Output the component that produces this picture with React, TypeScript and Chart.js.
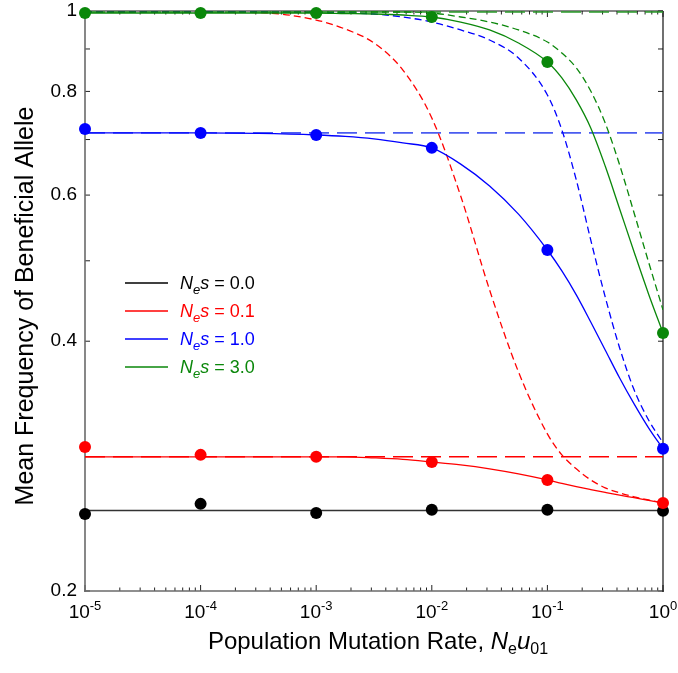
import React, { useEffect, useRef } from "react";
import { Chart, registerables } from "chart.js";

Chart.register(...registerables);

// ---------- data ----------
const dotX = [1e-5, 1e-4, 1e-3, 1e-2, 1e-1, 1];
const dotsNes00 = [0.2477, 0.2547, 0.2484, 0.2505, 0.2505, 0.2498];
const dotsNes01 = [0.2983, 0.2918, 0.2903, 0.2861, 0.2722, 0.2554];
const dotsNes10 = [0.7209, 0.7129, 0.7089, 0.684, 0.5152, 0.2967];
const dotsNes30 = [0.9945, 0.9945, 0.9945, 0.9835, 0.8681, 0.4093];

const curveX = [
  1e-5, 1e-4, 3.162e-4, 1e-3, 1.778e-3, 3.162e-3, 5.623e-3, 1e-2, 1.778e-2, 3.162e-2,
  5.623e-2, 0.1, 0.1334, 0.1778, 0.2371, 0.3162, 0.4217, 0.5623, 0.7499, 1,
];
const solidNes01 = [
  0.2902, 0.2902, 0.2902, 0.2902, 0.2902, 0.2894, 0.2882, 0.2861, 0.2838, 0.2807,
  0.2768, 0.2722, 0.2696, 0.2672, 0.265, 0.2629, 0.2609, 0.2591, 0.2572, 0.2554,
];
const dashedNes01 = [
  0.9986, 0.9972, 0.9958, 0.9753, 0.9513, 0.9151, 0.8489, 0.7432, 0.5984, 0.4611,
  0.3673, 0.3093, 0.2918, 0.2807, 0.2722, 0.2663, 0.2626, 0.2597, 0.2575, 0.2554,
];
const solidNes10 = [
  0.7129, 0.7129, 0.7119, 0.7089, 0.706, 0.7011, 0.6934, 0.6839, 0.6539, 0.6154,
  0.5691, 0.5152, 0.4861, 0.4549, 0.4219, 0.3904, 0.3612, 0.3361, 0.3145, 0.2967,
];
const dashedNes10 = [
  0.9972, 0.9972, 0.9972, 0.9958, 0.9945, 0.9917, 0.9835, 0.9699, 0.9487, 0.9227,
  0.8777, 0.7922, 0.7188, 0.6257, 0.5298, 0.4523, 0.3926, 0.3495, 0.3215, 0.3017,
];
const solidNes30 = [
  0.9945, 0.9945, 0.9945, 0.9945, 0.9931, 0.9917, 0.9889, 0.9835, 0.9699, 0.9487,
  0.9151, 0.8681, 0.8304, 0.7813, 0.7228, 0.6504, 0.5774, 0.5124, 0.4561, 0.4093,
];
const dashedNes30 = [
  0.9972, 0.9972, 0.9972, 0.9972, 0.9972, 0.9972, 0.9972, 0.9945, 0.9835, 0.9699,
  0.9487, 0.9176, 0.8899, 0.8538, 0.8008, 0.7329, 0.6522, 0.571, 0.4984, 0.4363,
];

const flatX = [1e-5, 1];
const flatNes00 = [0.25, 0.25];
const flatNes01 = [0.2902, 0.2902];
const flatNes10 = [0.7129, 0.7129];
const flatNes30 = [0.9972, 0.9972];

const legendValues = ["0.0", "0.1", "1.0", "3.0"];
const xTickValues = [1e-5, 1e-4, 1e-3, 1e-2, 1e-1, 1];
const xTickExponents = ["-5", "-4", "-3", "-2", "-1", "0"];
const yTickValues = [0.2, 0.3, 0.4, 0.5, 0.6, 0.7, 0.8, 0.9, 1];
const yTickLabels = ["0.2", "", "0.4", "", "0.6", "", "0.8", "", "1"];

// ---------- styles ----------
const FONT = '"Liberation Sans", Arial, Helvetica, sans-serif';
const C_BLACK = "#000000";
const C_RED = "#ff0000";
const C_BLUE = "#0000ff";
const C_GREEN = "#0a870a";
const legendColors = [C_BLACK, C_RED, C_BLUE, C_GREEN];

const pts = (xs: number[], ys: number[]) => xs.map((x, i) => ({ x, y: ys[i] }));

type Seg = { t: string; size: number; italic?: boolean; dy?: number };

function drawRich(ctx: CanvasRenderingContext2D, segs: Seg[], x: number, y: number, align: "left" | "center") {
  const font = (s: Seg) => `${s.italic ? "italic " : ""}${s.size}px ${FONT}`;
  let total = 0;
  segs.forEach((s) => {
    ctx.font = font(s);
    total += ctx.measureText(s.t).width;
  });
  let cx = align === "center" ? x - total / 2 : x;
  ctx.textAlign = "left";
  ctx.textBaseline = "alphabetic";
  segs.forEach((s) => {
    ctx.font = font(s);
    ctx.fillText(s.t, cx, y + (s.dy || 0));
    cx += ctx.measureText(s.t).width;
  });
}

const decorPlugin = {
  id: "decor",
  beforeDatasetsDraw(chart: any) {
    const { ctx, chartArea: a, scales } = chart;
    const xs = scales.x;
    const ys = scales.y;
    ctx.save();
    const seg = (x1: number, y1: number, x2: number, y2: number) => {
      ctx.beginPath();
      ctx.moveTo(x1, y1);
      ctx.lineTo(x2, y2);
      ctx.stroke();
    };
    ctx.strokeStyle = "#222";
    ctx.lineWidth = 1;
    yTickValues.forEach((v) => {
      const y = ys.getPixelForValue(v);
      seg(a.left, y, a.left + 5, y);
      seg(a.right, y, a.right - 5, y);
    });
    for (let k = -5; k <= 0; k++) {
      for (let m = 1; m <= 9; m++) {
        const v = m * Math.pow(10, k);
        if (v > 1.0001) break;
        const x = xs.getPixelForValue(v);
        const len = m === 1 ? 6 : 3.5;
        seg(x, a.bottom, x, a.bottom - len);
        seg(x, a.top, x, a.top + len);
      }
    }
    // frame
    ctx.lineWidth = 1.6;
    ctx.strokeStyle = "#6a6a6a";
    seg(a.left, a.top - 1, a.left, a.bottom + 1);
    seg(a.left - 1, a.bottom, a.right + 1, a.bottom);
    ctx.lineWidth = 1.2;
    ctx.strokeStyle = "#111";
    seg(a.right, a.top, a.right, a.bottom + 1);
    seg(a.left, a.top, a.right, a.top);
    ctx.restore();
  },
  afterDraw(chart: any) {
    const { ctx, chartArea: a, scales } = chart;
    const xs = scales.x;
    const ys = scales.y;
    ctx.save();
    ctx.fillStyle = "#000";
    // y tick labels
    ctx.font = `19px ${FONT}`;
    ctx.textAlign = "right";
    ctx.textBaseline = "middle";
    yTickValues.forEach((v, i) => {
      if (!yTickLabels[i]) return;
      ctx.fillText(yTickLabels[i], a.left - 8, ys.getPixelForValue(v));
    });
    // x tick labels
    xTickValues.forEach((v, i) => {
      drawRich(
        ctx,
        [
          { t: "10", size: 19 },
          { t: xTickExponents[i], size: 13, dy: -8 },
        ],
        xs.getPixelForValue(v),
        a.bottom + 27,
        "center"
      );
    });
    // x title
    drawRich(
      ctx,
      [
        { t: "Population Mutation Rate, ", size: 24 },
        { t: "N", size: 24, italic: true },
        { t: "e", size: 16, dy: 5 },
        { t: "u", size: 24, italic: true },
        { t: "01", size: 16, dy: 5 },
      ],
      (a.left + a.right) / 2 + 4,
      a.bottom + 58,
      "center"
    );
    // y title
    ctx.save();
    ctx.translate(26, (a.top + a.bottom) / 2 + 5);
    ctx.rotate(-Math.PI / 2);
    ctx.font = `25px ${FONT}`;
    ctx.textAlign = "center";
    ctx.textBaseline = "middle";
    ctx.fillText("Mean Frequency of Beneficial Allele", 0, 0);
    ctx.restore();
    // legend
    legendValues.forEach((val, i) => {
      const y = a.top + 272 + i * 28;
      ctx.strokeStyle = legendColors[i];
      ctx.fillStyle = legendColors[i];
      ctx.lineWidth = 1.3;
      ctx.beginPath();
      ctx.moveTo(a.left + 40, y);
      ctx.lineTo(a.left + 83, y);
      ctx.stroke();
      drawRich(
        ctx,
        [
          { t: "N", size: 18, italic: true },
          { t: "e", size: 13, italic: true, dy: 5 },
          { t: "s", size: 18, italic: true },
          { t: " = " + val, size: 18 },
        ],
        a.left + 95,
        y + 6,
        "left"
      );
    });
    ctx.restore();
  },
};

export default function App() {
  const ref = useRef<HTMLCanvasElement | null>(null);
  useEffect(() => {
    document.body.style.margin = "0";
    document.body.style.overflow = "hidden";
    const canvas = ref.current;
    if (!canvas) return;
    const dots = (ys: number[], color: string) => ({
      data: pts(dotX, ys),
      showLine: false,
      pointRadius: 6,
      pointBorderWidth: 0,
      pointBackgroundColor: color,
      pointBorderColor: color,
      clip: false as any,
    });
    const line = (xs: number[], ys: number[], color: string, width: number, dash: number[]) => ({
      data: pts(xs, ys),
      borderColor: color,
      borderWidth: width,
      borderDash: dash,
      pointRadius: 0,
      fill: false,
      cubicInterpolationMode: "monotone" as const,
    });
    const SHORT = [7, 4];
    const LONG = [20, 8];
    const chart = new Chart(canvas, {
      type: "line",
      data: {
        datasets: [
          dots(dotsNes30, C_GREEN),
          dots(dotsNes10, C_BLUE),
          dots(dotsNes01, C_RED),
          dots(dotsNes00, C_BLACK),
          line(curveX, solidNes30, C_GREEN, 1.3, []),
          line(curveX, solidNes10, C_BLUE, 1.3, []),
          line(curveX, solidNes01, C_RED, 1.3, []),
          line(flatX, flatNes00, "#333333", 1.5, []),
          line(curveX, dashedNes30, C_GREEN, 1.3, SHORT),
          line(curveX, dashedNes10, C_BLUE, 1.3, SHORT),
          line(curveX, dashedNes01, C_RED, 1.3, SHORT),
          line(flatX, flatNes30, "#2a9a2a", 1.6, LONG),
          line(flatX, flatNes10, "#4a5cf0", 1.8, LONG),
          line(flatX, flatNes01, C_RED, 1.5, LONG),
        ] as any,
      },
      options: {
        animation: false,
        responsive: false,
        devicePixelRatio: 1,
        layout: { padding: { left: 85, top: 11, right: 15, bottom: 82 } },
        scales: {
          x: { type: "logarithmic", min: 1e-5, max: 1, display: false },
          y: { type: "logarithmic", min: 0.2, max: 1, display: false },
        },
        plugins: { legend: { display: false }, tooltip: { enabled: false } },
        events: [],
      },
      plugins: [decorPlugin as any],
    });
    return () => chart.destroy();
  }, []);
  return <canvas ref={ref} width={678} height={673} style={{ display: "block" }} />;
}
